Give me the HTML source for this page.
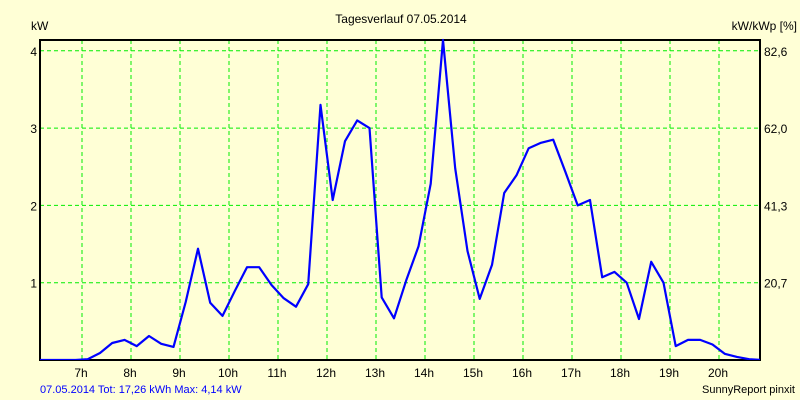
<!DOCTYPE html>
<html><head><meta charset="utf-8"><style>
body{margin:0;background:#ffffd6;}
svg{display:block;font-family:"Liberation Sans",Arial,sans-serif;}
</style></head><body>
<svg id="chart" width="800" height="400">
<rect x="0" y="0" width="800" height="400" fill="#ffffd6"/>
<text x="401" y="23" font-size="12" text-anchor="middle" fill="#000">Tagesverlauf 07.05.2014</text>
<text x="31" y="30" font-size="12" fill="#000">kW</text>
<text x="797" y="30" font-size="12" text-anchor="end" fill="#000">kW/kWp [%]</text>
<g id="grid"></g>
<g id="ticks"></g>
<rect x="40" y="40" width="720" height="320" fill="none" stroke="#000" stroke-width="2"/>
<g id="series"></g>
<text x="40" y="393" font-size="11" fill="#0000ff">07.05.2014 Tot: 17,26 kWh Max: 4,14 kW</text>
<text x="795" y="393" font-size="11" text-anchor="end" fill="#000">SunnyReport pinxit</text>
</svg>
<script>
const hourTicks=[7,8,9,10,11,12,13,14,15,16,17,18,19,20];
const yTicks=[1,2,3,4];
const rightTickLabels=["20,7","41,3","62,0","82,6"];
const times=["6:07","6:22","6:37","6:52","7:07","7:22","7:37","7:52","8:07","8:22","8:37","8:52","9:07","9:22","9:37","9:52","10:07","10:22","10:37","10:52","11:07","11:22","11:37","11:52","12:07","12:22","12:37","12:52","13:07","13:22","13:37","13:52","14:07","14:22","14:37","14:52","15:07","15:22","15:37","15:52","16:07","16:22","16:37","16:52","17:07","17:22","17:37","17:52","18:07","18:22","18:37","18:52","19:07","19:22","19:37","19:52","20:07","20:22","20:37","20:52"];
const power=[0,0,0,0,0.01,0.09,0.22,0.26,0.18,0.31,0.21,0.17,0.75,1.44,0.74,0.57,0.89,1.2,1.2,0.97,0.8,0.69,0.98,3.3,2.07,2.83,3.1,3.0,0.81,0.54,1.03,1.47,2.28,4.14,2.48,1.41,0.79,1.23,2.16,2.39,2.74,2.81,2.85,2.43,2.0,2.07,1.07,1.14,1.0,0.53,1.27,1.0,0.18,0.26,0.26,0.2,0.08,0.04,0.01,0];
const NS="http://www.w3.org/2000/svg";
const x=h=>82+(h-7)*49;
const y=v=>360-v*77.3;
const toH=s=>{const p=s.split(":");return +p[0]+(+p[1])/60;};
function mk(tag,attrs,parent){const e=document.createElementNS(NS,tag);for(const k in attrs)e.setAttribute(k,attrs[k]);parent.appendChild(e);return e;}
const grid=document.getElementById("grid"),ticks=document.getElementById("ticks"),series=document.getElementById("series");
hourTicks.forEach(h=>{
  const l=mk("line",{x1:x(h),x2:x(h),y1:40,y2:360,stroke:"#00ee00","stroke-dasharray":"4,3"},grid);
  
  
  const t=mk("text",{x:x(h)-1,y:377,"font-size":12,"text-anchor":"middle",fill:"#000"},ticks);
  t.textContent=h+"h";
  
  
});
yTicks.forEach((v,i)=>{
  const l=mk("line",{x1:40,x2:760,y1:y(v),y2:y(v),stroke:"#00ee00","stroke-dasharray":"4,3"},grid);
  
  
  const t=mk("text",{x:37,y:y(v)+5,"font-size":12,"text-anchor":"end",fill:"#000"},ticks);
  t.textContent=v;
  
  
  const r=mk("text",{x:764,y:y(v)+5,"font-size":12,fill:"#000"},ticks);
  r.textContent=rightTickLabels[i];
  
  
});
const cp=mk("clipPath",{id:"clip"},series);
mk("rect",{x:40,y:30,width:720,height:330},cp);
const pts=times.map((t,i)=>x(toH(t)).toFixed(1)+","+y(power[i]).toFixed(1)).join(" ");
const pl=mk("polyline",{points:pts,fill:"none",stroke:"#0000ff","stroke-width":2.2,"stroke-linejoin":"round","clip-path":"url(#clip)"},series);


</script>
</body></html>
